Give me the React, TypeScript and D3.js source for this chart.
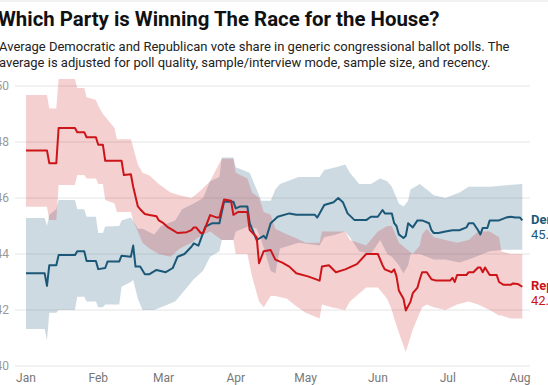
import React from "react";
import * as d3 from "d3";

const title = "Which Party is Winning The Race for the House?";
const subtitleLines = [
  "Average Democratic and Republican vote share in generic congressional ballot polls. The",
  "average is adjusted for poll quality, sample/interview mode, sample size, and recency.",
];
const yTicks = [40, 42, 44, 46, 48, 50];
const monthTicks = ["Jan", "Feb", "Mar", "Apr", "May", "Jun", "Jul", "Aug"];
const seriesNames = ["Dem", "Rep"];

// [day offset from Jan 1, value]
const repLine: [number, number][] = [
  [0,47.7],[9,47.7],[10,47.24],[13,47.24],[14,48.5],[21,48.5],[22,48.35],[25,48.35],[26,48.17],[30,48.17],[31,47.9],[33,47.9],[34,47.33],[41,47.33],[42,46.82],[45,46.85],[46,46.4],[48,45.7],[49,45.6],[51,45.43],[53,45.39],[56,45.35],[57,45.2],[59,45.1],[61,44.95],[63,44.85],[65,44.75],[69,44.78],[71,44.85],[72,44.95],[73,44.95],[75,44.75],[76,44.75],[77,44.95],[79,45.39],[82,45.3],[83,45.3],[85,45.95],[88,45.9],[89,45.4],[91,45.5],[95,45.5],[96,44.86],[99,44.6],[100,43.67],[102,44.1],[105,44.14],[107,43.8],[110,43.69],[113,43.55],[116,43.31],[121,43.2],[126,43.05],[127,43.55],[130,43.6],[133,43.35],[137,43.45],[142,43.64],[146,44.0],[151,44.0],[153,43.6],[154,43.45],[157,43.35],[158,43.45],[159,43.2],[160,42.7],[162,42.4],[163,41.98],[165,42.3],[166,42.6],[168,42.8],[169,43.1],[170,43.35],[172,43.35],[174,43.1],[176,43.05],[182,43.05],[183,43.15],[184,43.0],[185,43.25],[189,43.25],[190,43.35],[192,43.35],[194,43.52],[195,43.52],[196,43.35],[197,43.52],[199,43.25],[202,43.25],[203,43.0],[205,42.9],[208,42.9],[209,42.95],[211,42.93],[213,42.83],
];

const demLine: [number, number][] = [
  [0,43.31],[8,43.31],[9,42.86],[10,43.6],[13,43.6],[14,43.96],[21,43.96],[22,44.1],[25,44.1],[26,43.75],[30,43.75],[31,43.46],[34,43.5],[35,43.73],[40,43.73],[41,43.94],[45,43.9],[46,44.3],[47,43.55],[49,43.55],[51,43.28],[53,43.28],[56,43.43],[60,43.35],[63,43.5],[65,43.9],[68,44.0],[71,44.26],[72,44.38],[74,44.3],[77,44.98],[80,45.1],[83,45.1],[85,45.87],[89,45.87],[90,45.63],[92,45.7],[95,45.7],[96,45.1],[99,44.5],[102,44.65],[103,44.55],[105,45.1],[108,45.33],[113,45.45],[116,45.4],[124,45.4],[125,45.3],[126,45.45],[128,45.75],[132,45.85],[134,46.0],[136,45.85],[138,45.45],[141,45.21],[146,45.21],[148,45.33],[151,45.33],[153,45.57],[154,45.45],[157,45.45],[158,45.1],[159,45.0],[160,44.7],[162,44.57],[163,44.65],[164,45.1],[166,44.95],[168,45.2],[170,45.2],[173,45.1],[174,44.85],[175,44.75],[177,44.75],[180,44.8],[183,44.85],[186,44.85],[189,44.95],[190,45.1],[192,45.1],[194,44.85],[195,44.7],[196,44.93],[198,44.93],[199,45.2],[203,45.2],[206,45.3],[208,45.33],[210,45.3],[212,45.3],[213,45.2],
];

// [day offset, low, high]
const repBand: [number, number, number][] = [
  [0,45.69,49.68],[9,45.69,49.68],[10,45.21,49.2],[13,45.21,49.2],[14,46.46,50.25],[21,46.46,50.25],[22,46.82,49.93],[25,46.82,49.93],[26,46.7,49.6],[30,46.7,49.5],[31,46.5,49.3],[33,46.5,49.0],[34,45.93,48.9],[38,45.8,48.5],[39,45.5,48.1],[45,45.5,48.1],[46,45.2,47.8],[48,44.8,47.2],[50,44.4,46.9],[53,44.2,46.8],[57,44.0,46.5],[62,43.9,46.2],[66,44.2,46.1],[71,44.4,46.0],[74,44.6,46.2],[79,44.8,46.6],[84,44.5,47.4],[89,44.5,47.4],[90,44.0,46.9],[95,44.0,46.7],[97,43.2,46.2],[100,42.3,46.0],[102,42.1,45.5],[105,42.5,45.4],[107,42.5,44.9],[112,42.4,44.7],[115,42.2,44.6],[120,41.9,44.4],[126,41.7,44.4],[127,42.2,44.8],[131,42.1,44.8],[137,42.0,44.8],[139,42.3,44.5],[146,42.8,44.3],[151,42.8,44.8],[155,42.4,45.0],[157,42.0,45.0],[158,41.7,44.8],[160,41.2,44.4],[163,40.5,44.2],[166,41.3,44.0],[169,41.9,44.3],[170,42.1,44.7],[172,42.2,44.9],[175,42.1,44.6],[180,42.0,44.5],[185,42.2,44.4],[190,42.3,44.5],[194,42.2,44.8],[199,42.0,44.8],[203,41.8,44.6],[204,41.8,44.1],[208,41.7,44.0],[213,41.7,44.0],
];

const demBand: [number, number, number][] = [
  [0,41.32,45.29],[8,41.32,45.29],[9,40.9,45.0],[10,41.9,45.4],[13,41.9,45.6],[14,42.0,45.93],[21,42.0,45.93],[22,42.47,45.6],[25,42.47,45.6],[26,42.3,45.33],[30,42.3,45.33],[31,42.1,44.75],[33,42.1,44.75],[34,42.2,44.98],[40,42.2,45.0],[41,42.83,45.2],[45,43.0,45.3],[46,43.07,45.2],[48,42.4,44.9],[50,42.0,44.9],[55,42.0,44.7],[58,42.1,45.0],[64,42.3,45.2],[67,42.6,45.6],[72,43.1,45.8],[76,43.4,46.0],[79,43.9,46.6],[83,44.1,46.75],[84,44.5,47.45],[89,44.5,47.45],[90,44.8,47.1],[96,45.0,46.9],[99,44.9,46.3],[101,44.5,45.9],[105,43.4,45.9],[107,43.3,46.3],[109,44.2,46.5],[117,44.4,46.75],[126,44.3,46.75],[128,44.6,47.0],[133,44.7,47.1],[137,44.8,47.2],[139,44.6,46.9],[143,44.1,46.5],[148,44.0,46.5],[152,44.5,46.7],[155,44.0,46.6],[157,43.9,46.4],[160,43.6,45.8],[162,43.3,45.7],[164,43.6,45.9],[165,44.0,46.3],[169,44.0,46.5],[172,43.9,46.3],[175,43.8,46.1],[180,43.8,46.0],[186,43.7,46.2],[190,43.8,46.4],[196,44.0,46.4],[199,44.1,46.4],[205,44.15,46.45],[213,44.15,46.5],
];

const DEM = "#1b5878";
const REP = "#cc1419";
const FONT = "Roboto, 'Noto Sans', sans-serif";

const start = new Date(2022, 0, 1);
const day = (d: number) => d3.timeDay.offset(start, d);

export default function App() {
  const W = 548, H = 385;
  const x = d3.scaleTime().domain([new Date(2022, 0, 1), new Date(2022, 7, 1)]).range([26, 520]);
  const y = d3.scaleLinear().domain([40, 50]).range([366, 86]);

  const line = d3.line<[number, number]>().x(d => x(day(d[0]))).y(d => y(d[1]));
  const area = d3.area<[number, number, number]>().x(d => x(day(d[0]))).y0(d => y(d[1])).y1(d => y(d[2]));

  const months = d3.timeMonth.range(new Date(2022, 0, 1), new Date(2022, 7, 2));
  const lastDem = demLine[demLine.length - 1];
  const lastRep = repLine[repLine.length - 1];
  const labelX = 531;

  return (
    <div style={{ position: "fixed", left: 0, top: 0, width: W, height: H, background: "#fff" }}>
      <svg width={W} height={H} style={{ display: "block", fontFamily: FONT }}>
        <line x1={0} x2={W} y1={1} y2={1} stroke="#e2e2e2" />
        <text x={-2} y={26} fontSize={20.4} fontWeight={700} fill="#111">{title}</text>
        {subtitleLines.map((s, i) => (
          <text key={i} x={-1} y={51 + i * 16} fontSize={13} fill="#222">{s}</text>
        ))}
        {yTicks.map(t => (
          <g key={t}>
            <line x1={15} x2={530} y1={y(t)} y2={y(t)} stroke="#e4e4e4" strokeWidth={1} />
            <text x={9} y={y(t)} dy="0.35em" textAnchor="end" fontSize={12} fill="#999">{t}</text>
          </g>
        ))}
        {months.map((m, i) => (
          <text key={i} x={x(m)} y={382} textAnchor="middle" fontSize={12} fill="#777">{monthTicks[i]}</text>
        ))}
        <path d={area(demBand) || ""} fill={DEM} fillOpacity={0.22} />
        <path d={area(repBand) || ""} fill={REP} fillOpacity={0.2} />
        <path d={line(demLine) || ""} fill="none" stroke={DEM} strokeWidth={2} strokeLinejoin="round" />
        <path d={line(repLine) || ""} fill="none" stroke={REP} strokeWidth={2} strokeLinejoin="round" />
        <text x={labelX} y={y(lastDem[1]) - 1} fontSize={13} fontWeight={700} fill={DEM} dy="0.35em">{seriesNames[0]}</text>
        <text x={labelX} y={y(lastDem[1]) + 14} fontSize={13} fill={DEM} dy="0.35em">{lastDem[1].toFixed(1)}</text>
        <text x={labelX} y={y(lastRep[1]) - 1} fontSize={13} fontWeight={700} fill={REP} dy="0.35em">{seriesNames[1]}</text>
        <text x={labelX} y={y(lastRep[1]) + 14} fontSize={13} fill={REP} dy="0.35em">{lastRep[1].toFixed(1)}</text>
      </svg>
    </div>
  );
}
